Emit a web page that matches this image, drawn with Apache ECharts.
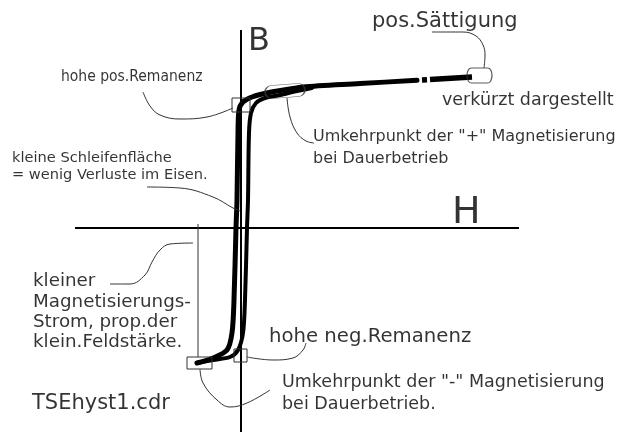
<!DOCTYPE html>
<html><head><meta charset="utf-8">
<script src="https://cdn.jsdelivr.net/npm/echarts@6/dist/echarts.min.js"></script>
<style>html,body{margin:0;padding:0;background:#fff}#c{width:628px;height:432px}</style>
</head><body><div id="c"></div>
<script>
// Hysteresis loop (schematic units: H horizontal, B vertical)
const descH = [17.6, 11.9, 6.2, 4.9, 2.6, 1.1, 0.2, -0.2, -0.3, -0.4, -0.5, -0.7, -0.9, -1.4, -2.8, -4.4];
const descB = [14.78, 14.44, 14.1, 13.9, 13.5, 13.1, 12.6, 11.8, 9.5, 2.8, 0, -7.2, -10.5, -12.2, -13.0, -13.5];
const ascH = [-4.4, -2.8, -1.1, -0.3, 0.2, 0.4, 0.6, 0.7, 0.8, 1.0, 1.5, 2.4, 3.9, 5.6, 7.1];
const ascB = [-13.5, -13.2, -12.9, -12.2, -10.5, -7.2, 0, 2.8, 9.5, 11.5, 12.5, 13.0, 13.3, 13.7, 14.0];
// shortened saturation part (gap = "verkürzt dargestellt")
const satH = [18.1, 18.6, null, 18.9, 23.1];
const satB = [14.80, 14.83, null, 14.85, 15.10];
// axes lines
const hAxisH = [-16.6, 27.8], hAxisB = [0, 0];
const bAxisH = [0, 0], bAxisB = [19.8, -20.4];
// annotation leader lines
const leaderSat = [[19.1,19.6],[22.2,19.6],[23.5,19.2],[24.2,18.3],[24.4,17.3],[24.3,16.0]];
const leaderUmkPlus = [[4.6,13.0],[4.9,11.1],[5.6,9.5],[6.5,8.7],[7.3,8.5]];
const leaderPosRem = [[-9.8,13.6],[-9.1,12.2],[-8.1,11.3],[-6.1,10.9],[-3.4,11.1],[-0.8,12.0]];
const leaderLoop = [[-9.4,4.1],[-6.1,4.0],[-2.8,3.1],[-0.8,2.0],[-0.1,1.7]];
const leaderKleiner = [[-13.1,-5.6],[-11.1,-5.6],[-9.6,-4.7],[-8.9,-3.4],[-8.1,-2.2],[-7.1,-1.6],[-4.8,-1.5]];
const leaderCurrent = [[-4.3,0.4],[-4.3,-12.9]];
const leaderNegRem = [[0.6,-12.9],[3.2,-13.2],[5.2,-13.0],[6.2,-12.2],[6.5,-11.5]];
const leaderUmkMinus = [[-4.1,-14.1],[-3.8,-15.5],[-2.4,-17.2],[-1.1,-17.9],[0.6,-17.5],[2.9,-16.2]];
// rectangular marker boxes [h1,b1,h2,b2]
const boxPosRem = [-0.9, 13.0, 0.9, 11.6];
const boxNegRem = [-0.7, -12.1, 0.6, -13.4];
const boxUmkMinus = [-5.4, -12.9, -2.9, -14.1];
// rounded marker boxes (centres)
const capsSat = [23.85, 15.25];
const capsUmkPlus = [4.4, 13.7];
// annotation texts
const labelTexts = ['B','pos.Sättigung','verkürzt dargestellt','Umkehrpunkt der "+" Magnetisierung','bei Dauerbetrieb','hohe pos.Remanenz','kleine Schleifenfläche','= wenig Verluste im Eisen.','kleiner','Magnetisierungs-','Strom, prop.der','klein.Feldstärke.','H','hohe neg.Remanenz','Umkehrpunkt der "-" Magnetisierung','bei Dauerbetrieb.','TSEhyst1.cdr'];
const labelH = [0.7, 13.1, 20.1, 7.2, 7.2, -18.0, -22.9, -22.9, -20.8, -20.8, -20.8, -20.8, 21.1, 2.8, 4.1, 4.1, -20.9];
const labelB = [18.6, 20.65, 12.8, 9.1, 6.9, 15.1, 7.0, 5.3, -5.3, -7.4, -9.4, -11.4, 1.5, -10.85, -15.4, -17.6, -17.6];
const labelSize = [32, 21, 17.5, 16, 16, 15.5, 14.6, 14.6, 18.3, 18.3, 18.3, 18.3, 38, 19.7, 17.5, 17.5, 21];

const zip = (a, b) => a.map((v, i) => (v === null ? '-' : [v, b[i]]));
const rect = r => [[r[0],r[1]],[r[2],r[1]],[r[2],r[3]],[r[0],r[3]],[r[0],r[1]]];
const thin = (data, smooth) => ({type:'line', data, smooth: smooth ? 0.4 : false, symbol:'none', lineStyle:{color:'#333', width:1}, z:3});
const thick = (data, w) => ({type:'line', data, smooth:0.3, symbol:'none', lineStyle:{color:'#000', width:w, cap:'round', join:'round'}, z:2});
const capsule = 'path://M5,0 L25,0 A5,5 0 0 1 25,10 L5,10 A5,5 0 0 1 5,0 Z';

const chart = echarts.init(document.getElementById('c'), null, {renderer:'canvas'});
chart.setOption({
  animation:false,
  backgroundColor:'#fff',
  grid:{left:0,right:0,top:0,bottom:0},
  xAxis:{type:'value', min:-24.1, max:38.7, show:false},
  yAxis:{type:'value', min:-20.4, max:22.8, show:false},
  series:[
    {type:'line', data:zip(hAxisH,hAxisB), symbol:'none', lineStyle:{color:'#000', width:2}, z:1},
    {type:'line', data:zip(bAxisH,bAxisB), symbol:'none', lineStyle:{color:'#000', width:2}, z:1},
    thick(zip(descH,descB), 5),
    thick(zip(ascH,ascB), 4),
    {type:'line', data:zip(satH,satB), connectNulls:false, symbol:'none', lineStyle:{color:'#000', width:5.5}, z:2},
    thin(leaderSat, true), thin(leaderUmkPlus, true), thin(leaderPosRem, true), thin(leaderLoop, true),
    thin(leaderKleiner, true), thin(leaderCurrent, false), thin(leaderNegRem, true), thin(leaderUmkMinus, true),
    thin(rect(boxPosRem), false), thin(rect(boxNegRem), false), thin(rect(boxUmkMinus), false),
    {type:'scatter', silent:true, z:4, data:[
      {value:capsSat, symbol:capsule, symbolSize:[25,15]},
      {value:capsUmkPlus, symbol:capsule, symbolSize:[40,13], symbolRotate:4}
    ], itemStyle:{color:'rgba(0,0,0,0)', borderColor:'#333', borderWidth:1}},
    {type:'scatter', silent:true, z:5, symbolSize:0,
      data: labelTexts.map((t, i) => ({
        value:[labelH[i], labelB[i]],
        label:{show:true, position:'right', distance:0, formatter:t, color:'#000',
          fontSize:labelSize[i],
          fontFamily: i === 5 ? '"Liberation Sans Narrow","DejaVu Sans Condensed",sans-serif' : '"DejaVu Sans",sans-serif'}
      }))
    }
  ]
});
</script></body></html>
